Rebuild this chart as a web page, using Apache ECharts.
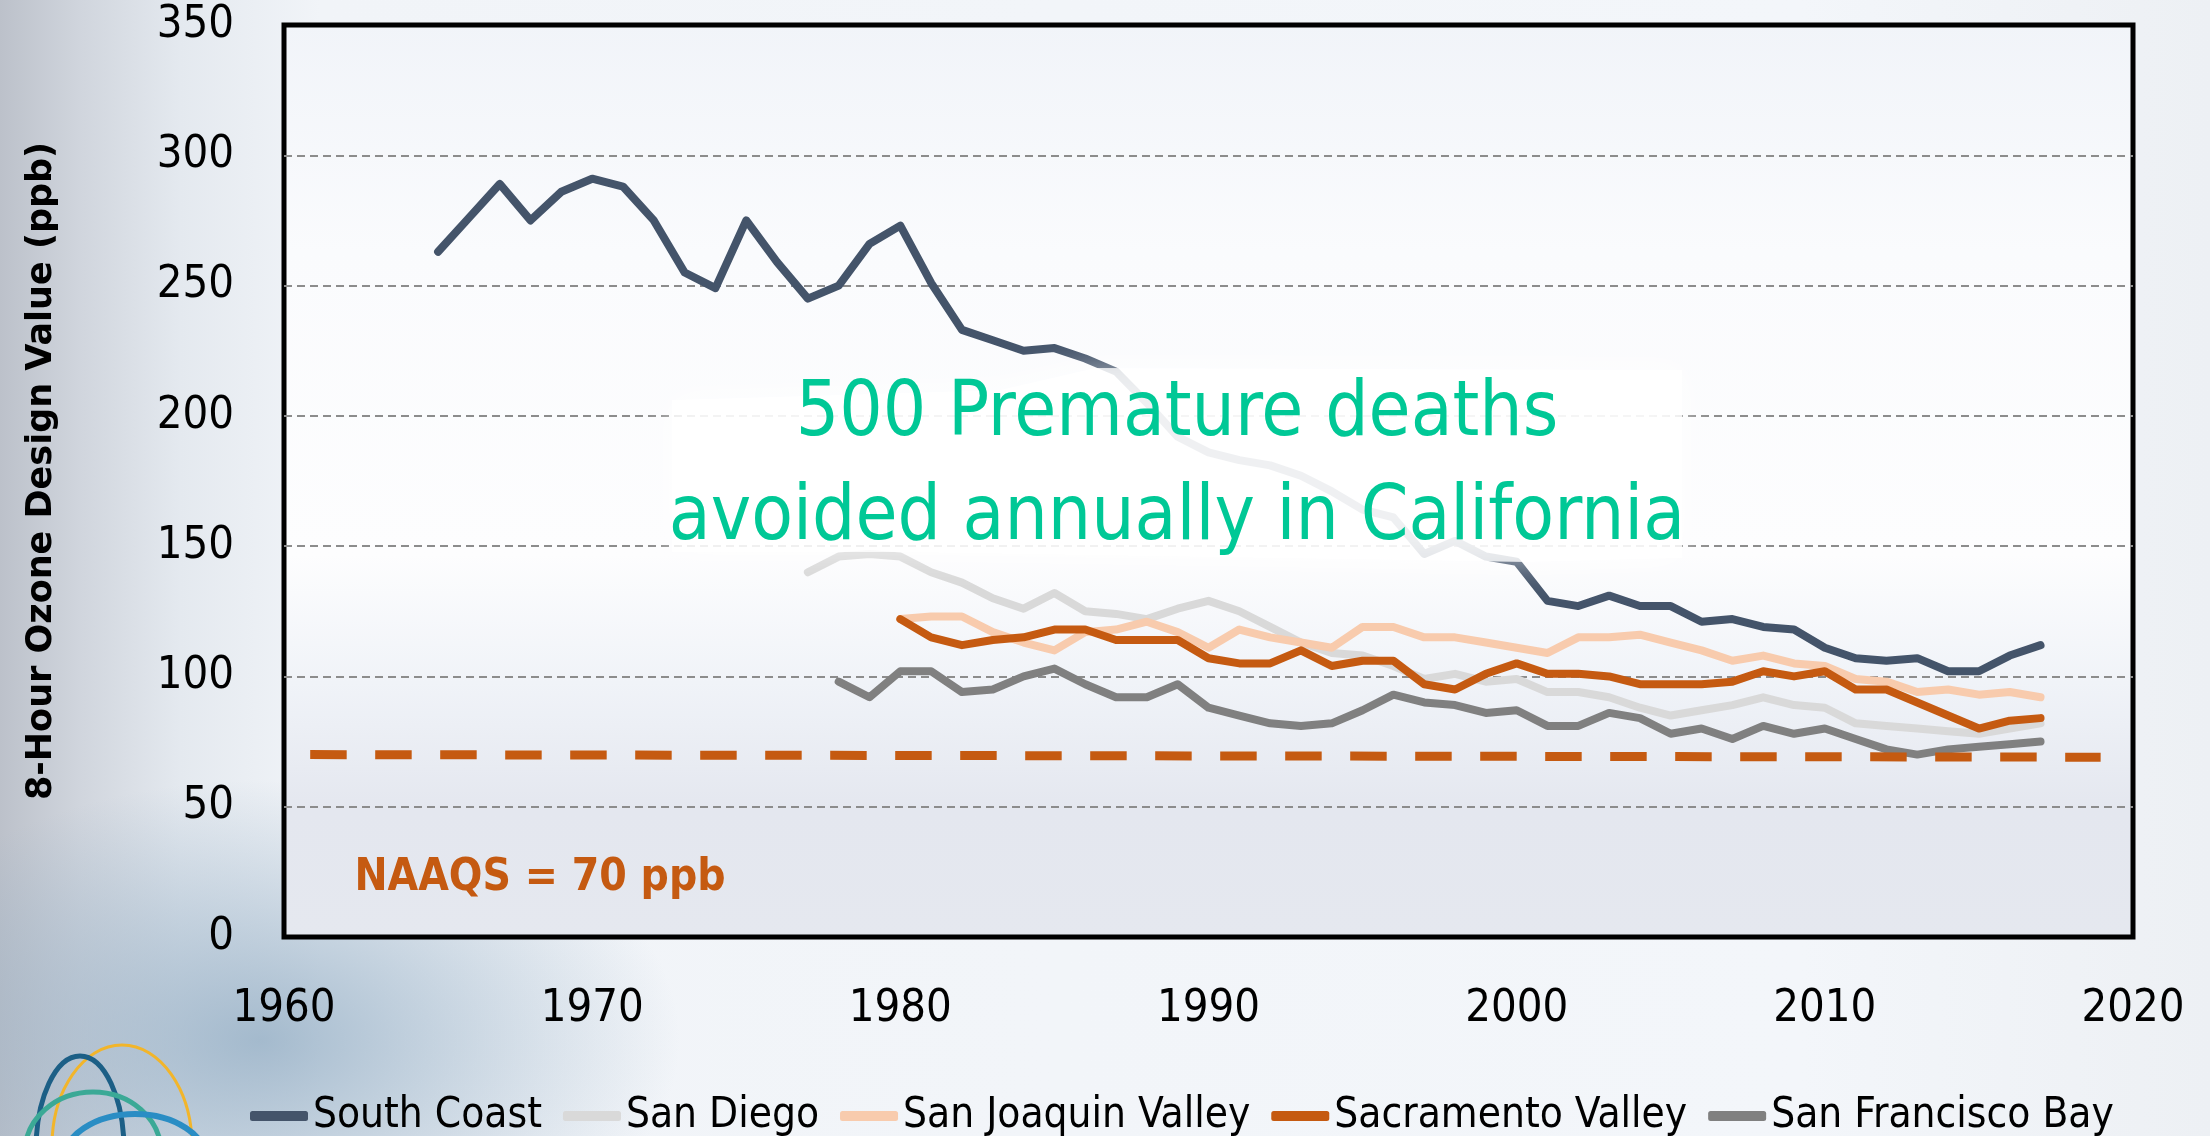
<!DOCTYPE html>
<html>
<head>
<meta charset="utf-8">
<script src="https://cdn.jsdelivr.net/npm/echarts@6/dist/echarts.min.js"></script>
<style>
html, body { margin: 0; padding: 0; width: 2210px; height: 1136px; overflow: hidden; }
body {
  background:
    radial-gradient(ellipse 420px 260px at 260px 1040px, rgba(140,168,192,0.75), rgba(140,168,192,0) 100%),
    linear-gradient(to right, #BCC1CA 0px, #D0D5DD 80px, #E4E9EF 180px, #F1F4F8 320px, #F3F6FA 1800px, #EDF0F4 2210px);
}
#chart { width: 2210px; height: 1136px; }
</style>
</head>
<body>
<div id="chart"></div>
<script>
// ---- Data ----
const seriesNames = ['South Coast', 'San Diego', 'San Joaquin Valley', 'Sacramento Valley', 'San Francisco Bay'];

const southCoastStart = 1965;
const southCoast = [263, 276, 289, 275, 286, 291, 288, 275, 255, 249,
                    275, 259, 245, 250, 266, 273, 251, 233, 229, 225,
                    226, 222, 217, 205, 192, 186, 183, 181, 177, 171,
                    164, 161, 147, 152, 146, 144, 129, 127, 131, 127,
                    127, 121, 122, 119, 118, 111, 107, 106, 107, 102,
                    102, 108, 112];

const sanDiegoStart = 1977;
const sanDiego = [140, 146, 147, 146, 140, 136, 130, 126, 132, 125,
                  124, 122, 126, 129, 125, 119, 113, 109, 108, 104,
                  99, 101, 98, 99, 94, 94, 92, 88, 85, 87,
                  89, 92, 89, 88, 82, 81, 80, 79, 78, 80, 82];

const sanJoaquinStart = 1980;
const sanJoaquin = [122, 123, 123, 117, 113, 110, 117, 118, 121, 117,
                    111, 118, 115, 113, 111, 119, 119, 115, 115, 113,
                    111, 109, 115, 115, 116, 113, 110, 106, 108, 105,
                    104, 99, 98, 94, 95, 93, 94, 92];

const sacramentoStart = 1980;
const sacramento = [122, 115, 112, 114, 115, 118, 118, 114, 114, 114,
                    107, 105, 105, 110, 104, 106, 106, 97, 95, 101,
                    105, 101, 101, 100, 97, 97, 97, 98, 102, 100,
                    102, 95, 95, 90, 85, 80, 83, 84];

const sfBayStart = 1978;
const sfBay = [98, 92, 102, 102, 94, 95, 100, 103, 97, 92,
               92, 97, 88, 85, 82, 81, 82, 87, 93, 90,
               89, 86, 87, 81, 81, 86, 84, 78, 80, 76,
               81, 78, 80, 76, 72, 70, 72, 73, 74, 75];

const naaqsX = [1960.85, 2018.95];
const naaqsY = [70, 69];

const xTicks = { min: 1960, max: 2020, interval: 10 };
const yTicks = { min: 0, max: 350, interval: 50 };

const annotationLines = ['500 Premature deaths', 'avoided annually in California'];
const naaqsLabel = 'NAAQS = 70 ppb';
const yTitle = '8-Hour Ozone Design Value (ppb)';

// ---- Styling ----
const FONT = "'DejaVu Sans Condensed', 'Liberation Sans Narrow', 'DejaVu Sans', sans-serif";
const colors = ['#44546A', '#D9D9D9', '#F8CBAD', '#C55A11', '#808080'];

function pairs(start, vals) { return vals.map((v, i) => [start + i, v]); }

const seriesData = [
  pairs(southCoastStart, southCoast),
  pairs(sanDiegoStart, sanDiego),
  pairs(sanJoaquinStart, sanJoaquin),
  pairs(sacramentoStart, sacramento),
  pairs(sfBayStart, sfBay)
];

const lineSeries = seriesNames.map((name, i) => ({
  name: name,
  type: 'line',
  data: seriesData[i],
  showSymbol: false,
  symbol: 'none',
  z: 2,
  itemStyle: { color: colors[i] },
  lineStyle: { color: colors[i], width: 8, cap: 'round', join: 'round' },
  emphasis: { disabled: true }
}));

lineSeries.push({
  name: 'NAAQS',
  type: 'line',
  data: naaqsX.map((x, i) => [x, naaqsY[i]]),
  showSymbol: false,
  symbol: 'none',
  z: 3,
  lineStyle: { color: '#C55A11', width: 9, type: [36.5, 28.5], cap: 'butt' },
  itemStyle: { color: '#C55A11' },
  emphasis: { disabled: true }
});

const chart = echarts.init(document.getElementById('chart'), null, { renderer: 'canvas' });

const option = {
  animation: false,
  backgroundColor: 'transparent',
  grid: {
    left: 284, right: 77, top: 25, bottom: 199,
    show: true,
    borderColor: '#000',
    borderWidth: 5,
    backgroundColor: new echarts.graphic.LinearGradient(0, 0, 0, 1, [
      { offset: 0, color: '#F1F4F9' },
      { offset: 0.25, color: '#FAFBFD' },
      { offset: 0.58, color: '#FDFDFE' },
      { offset: 0.72, color: '#F0F3F8' },
      { offset: 0.86, color: '#E4E7EF' },
      { offset: 1, color: '#E5E8EF' }
    ])
  },
  xAxis: {
    type: 'value',
    min: xTicks.min, max: xTicks.max, interval: xTicks.interval,
    axisLine: { show: false },
    axisTick: { show: false },
    splitLine: { show: false },
    axisLabel: { fontSize: 45, color: '#000', margin: 50, fontFamily: FONT,
                 formatter: function (v) { return String(v); } }
  },
  yAxis: {
    type: 'value',
    min: yTicks.min, max: yTicks.max, interval: yTicks.interval,
    axisLine: { show: false },
    axisTick: { show: false },
    splitLine: {
      show: true, showMinLine: false, showMaxLine: false,
      lineStyle: { color: '#8C8C8C', width: 2, type: [8, 5] }
    },
    axisLabel: { fontSize: 45, color: '#000', margin: 50, fontFamily: FONT,
                 formatter: function (v) { return String(v); } }
  },
  legend: {
    data: seriesNames,
    left: 245,
    top: 1090,
    itemWidth: 58,
    itemHeight: 10,
    itemGap: 21,
    icon: 'roundRect',
    textStyle: { fontSize: 42, color: '#000', fontFamily: FONT },
    selectedMode: false
  },
  series: lineSeries,
  graphic: [
    {
      type: 'polygon',
      z: 10,
      silent: true,
      shape: { points: [[672, 400], [1000, 390], [1095, 368], [1682, 370], [1682, 558], [1528, 562], [900, 552], [672, 552]] },
      style: { fill: 'rgba(255,255,255,0.8)', shadowBlur: 34, shadowColor: 'rgba(255,255,255,0.7)' }
    },
    {
      type: 'text', z: 20, silent: true,
      style: { text: annotationLines[0], x: 1177, y: 415, align: 'center', verticalAlign: 'middle',
               fill: '#00C896', fontSize: 76, fontFamily: FONT }
    },
    {
      type: 'text', z: 20, silent: true,
      style: { text: annotationLines[1], x: 1177, y: 519, align: 'center', verticalAlign: 'middle',
               fill: '#00C896', fontSize: 76, fontFamily: FONT }
    },
    {
      type: 'text', z: 20, silent: true,
      style: { text: naaqsLabel, x: 540, y: 879, align: 'center', verticalAlign: 'middle',
               fill: '#C55A11', fontSize: 44, fontWeight: 'bold', fontFamily: FONT }
    },
    {
      type: 'text', z: 20, silent: true,
      x: 42, y: 471, rotation: Math.PI / 2,
      style: { text: yTitle, x: 0, y: 0, align: 'center', verticalAlign: 'middle',
               fill: '#000', fontSize: 35, fontWeight: 'bold', fontFamily: "'DejaVu Sans', Verdana, sans-serif" }
    },
    // logo arcs (decoration, bottom-left)
    { type: 'ellipse', z: 1, silent: true, shape: { cx: 122, cy: 1146, rx: 70, ry: 101 },
      style: { fill: null, stroke: '#F2B52A', lineWidth: 3 } },
    { type: 'ellipse', z: 1, silent: true, shape: { cx: 80, cy: 1150, rx: 44, ry: 94 },
      style: { fill: null, stroke: '#1C5F86', lineWidth: 5 } },
    { type: 'ellipse', z: 1, silent: true, shape: { cx: 93, cy: 1152, rx: 68, ry: 60 },
      style: { fill: null, stroke: '#3BA996', lineWidth: 5 } },
    { type: 'ellipse', z: 1, silent: true, shape: { cx: 135, cy: 1162, rx: 72, ry: 48 },
      style: { fill: null, stroke: '#2A8DC4', lineWidth: 6 } }
  ]
};

chart.setOption(option);
</script>
</body>
</html>
